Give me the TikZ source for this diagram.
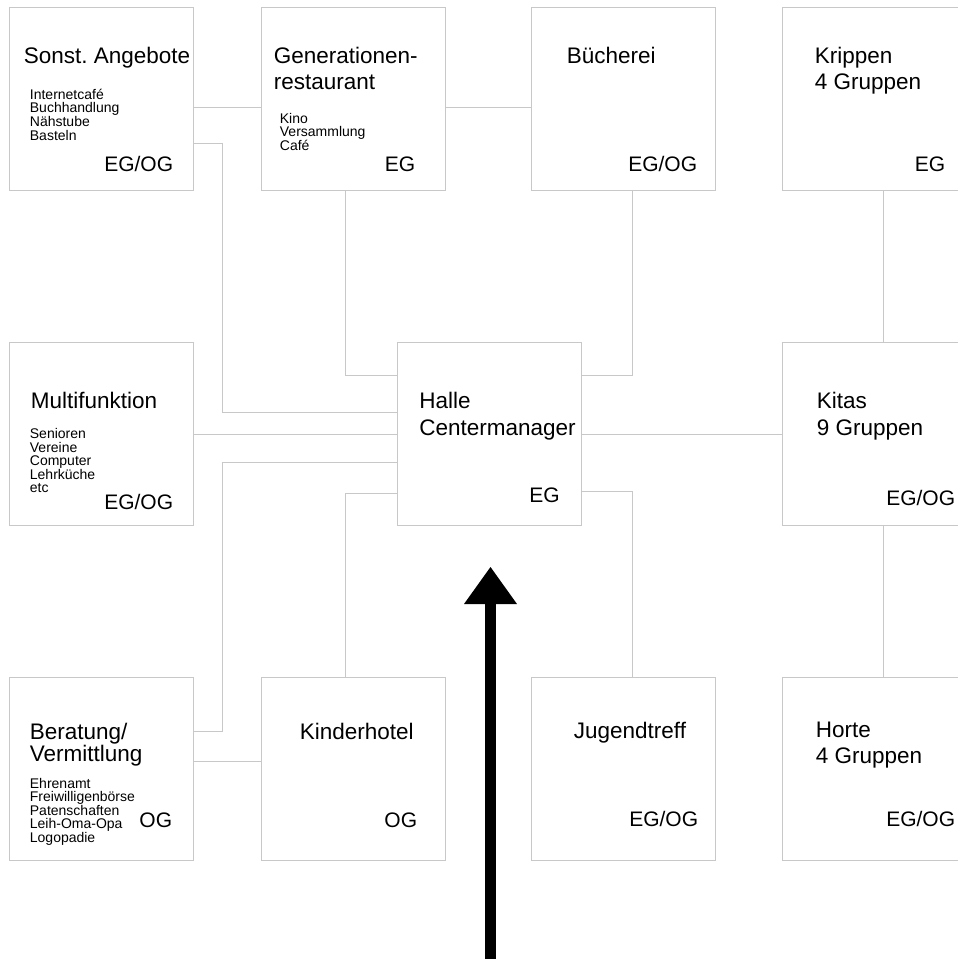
\documentclass[tikz,border=0pt]{standalone}
\usepackage{fontspec}
\setmainfont{Liberation Sans}
\usetikzlibrary{arrows.meta}
\definecolor{linegray}{RGB}{200,200,200}

\begin{document}
\begin{tikzpicture}[
  x=0.5pt, y=-0.5pt,
  room/.style={draw=linegray, line width=0.5pt, minimum width=92pt, minimum height=91.5pt, inner sep=0pt},
  link/.style={draw=linegray, line width=0.5pt},
  roomname/.style={anchor=north west, inner sep=0pt, align=left, font=\fontsize{11.25}{13.3}\selectfont},
  roomuses/.style={anchor=north west, inner sep=0pt, align=left, font=\fontsize{7}{6.8}\selectfont},
  floor/.style={anchor=base east, inner sep=0pt, font=\fontsize{10.5}{12}\selectfont},
  entry/.style={line width=5.5pt, -{Triangle[width=26.5pt, length=18.5pt, line width=0pt]}}
]
\clip (0,0) rectangle (958,959);

\node[room] (sonst)   at (101,98.5) {};
\node[room] (gener)   at (353,98.5) {};
\node[room] (buecher) at (623,98.5) {};
\node[room] (krippen) at (874,98.5) {};
\node[room] (multi)   at (101,434) {};
\node[room] (halle)   at (489.5,434) {};
\node[room] (kitas)   at (874,434) {};
\node[room] (berat)   at (101,768.5) {};
\node[room] (kinder)  at (353,768.5) {};
\node[room] (jugend)  at (623,768.5) {};
\node[room] (horte)   at (874,768.5) {};

\node[roomname] (sonst-name)   at ([shift={(15,40)}]sonst.north west) {Sonst.\ Angebote};
\node[roomname] (gener-name)   at ([shift={(13,40)}]gener.north west) {Generationen-\\restaurant};
\node[roomname] (buecher-name) at ([shift={(36,40)}]buecher.north west) {Bücherei};
\node[roomname] (krippen-name) at ([shift={(33,40)}]krippen.north west) {Krippen\\4 Gruppen};
\node[roomname] (multi-name)   at ([shift={(22,50)}]multi.north west) {Multifunktion};
\node[roomname] (halle-name)   at ([shift={(22,50)}]halle.north west) {Halle\\Centermanager};
\node[roomname] (kitas-name)   at ([shift={(35,50)}]kitas.north west) {Kitas\\9 Gruppen};
\node[roomname, font=\fontsize{11.25}{11.35}\selectfont] (berat-name) at ([shift={(21,46)}]berat.north west) {Beratung/\\Vermittlung};
\node[roomname] (kinder-name)  at ([shift={(39,46)}]kinder.north west) {Kinderhotel};
\node[roomname] (jugend-name)  at ([shift={(43,45)}]jugend.north west) {Jugendtreff};
\node[roomname] (horte-name)   at ([shift={(34,45)}]horte.north west) {Horte\\4 Gruppen};

\node[roomuses] (sonst-uses) at ([shift={(21,82)}]sonst.north west) {Internetcafé\\Buchhandlung\\Nähstube\\Basteln};
\node[roomuses] (gener-uses) at ([shift={(19,106)}]gener.north west) {Kino\\Versammlung\\Café};
\node[roomuses] (multi-uses) at ([shift={(21,86)}]multi.north west) {Senioren\\Vereine\\Computer\\Lehrküche\\etc};
\node[roomuses] (berat-uses) at ([shift={(21,101)}]berat.north west) {Ehrenamt\\Freiwilligenbörse\\Patenschaften\\Leih-Oma-Opa\\Logopadie};

\node[floor] (sonst-floor)   at ([shift={(-20,165)}]sonst.north east) {EG/OG};
\node[floor] (gener-floor)   at ([shift={(-30,165)}]gener.north east) {EG};
\node[floor] (buecher-floor) at ([shift={(-18,165)}]buecher.north east) {EG/OG};
\node[floor] (krippen-floor) at ([shift={(-21,165)}]krippen.north east) {EG};
\node[floor] (multi-floor)   at ([shift={(-20,167)}]multi.north east) {EG/OG};
\node[floor] (halle-floor)   at ([shift={(-22,160)}]halle.north east) {EG};
\node[floor] (kitas-floor)   at ([shift={(-11,163)}]kitas.north east) {EG/OG};
\node[floor] (berat-floor)   at ([shift={(-21,151)}]berat.north east) {OG};
\node[floor] (kinder-floor)  at ([shift={(-28,151)}]kinder.north east) {OG};
\node[floor] (jugend-floor)  at ([shift={(-17,150)}]jugend.north east) {EG/OG};
\node[floor] (horte-floor)   at ([shift={(-11,150)}]horte.north east) {EG/OG};

\draw[link] ([shift={(0,8.5)}]sonst.east) -- ([shift={(0,8.5)}]gener.west);
\draw[link] ([shift={(0,8.5)}]gener.east) -- ([shift={(0,8.5)}]buecher.west);
\draw[link] ([shift={(0,44.5)}]sonst.east) -- ++(29,0) |- ([shift={(0,-22)}]halle.west);
\draw[link] ([shift={(-8,0)}]gener.south) |- ([shift={(0,-59)}]halle.west);
\draw[link] ([shift={(9,0)}]buecher.south) |- ([shift={(0,-59)}]halle.east);
\draw[link] (multi.east) -- (halle.west);
\draw[link] ([shift={(0,-37.5)}]berat.east) -- ++(29,0) |- ([shift={(0,28)}]halle.west);
\draw[link] ([shift={(0,-7.5)}]berat.east) -- ([shift={(0,-7.5)}]kinder.west);
\draw[link] ([shift={(-8,0)}]kinder.north) |- ([shift={(0,59)}]halle.west);
\draw[link] ([shift={(9,0)}]jugend.north) |- ([shift={(0,57)}]halle.east);
\draw[link] (halle.east) -- (kitas.west);
\draw[link] ([shift={(9,0)}]krippen.south) -- ([shift={(9,0)}]kitas.north);
\draw[link] ([shift={(9,0)}]kitas.south) -- ([shift={(9,0)}]horte.north);

\coordinate (entry-foot) at (490.5,965);
\coordinate (entry-tip) at (490.5,567);
\draw[entry] (entry-foot) -- (entry-tip);
\end{tikzpicture}
\end{document}
